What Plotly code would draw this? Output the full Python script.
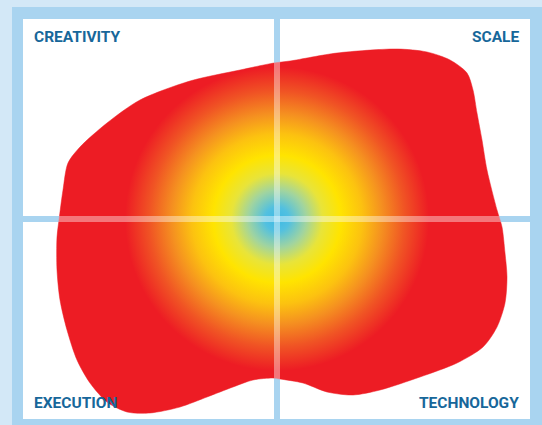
import numpy as np
import plotly.graph_objects as go

W, H = 542, 425

# Blob outline (pixel-space data coordinates, y downwards), starts on the flat left side
BLOB_X = [59, 63, 68, 80, 107, 140, 190, 240, 274, 290, 337, 397, 427, 450, 467, 473,
          477, 482, 487, 497, 502, 505, 507, 505, 497, 483, 457, 420, 380, 353, 327, 303,
          280, 273, 253, 233, 207, 180, 150, 127, 107, 90, 77, 67, 60, 57, 57, 59]
BLOB_Y = [220, 190, 163, 147, 123, 100, 81, 70, 63, 61, 53, 49, 52, 60, 73, 90,
          113, 140, 170, 210, 227, 253, 277, 303, 327, 347, 363, 377, 390, 395, 392, 383,
          379, 378, 380, 387, 397, 407, 413, 412, 402, 383, 360, 330, 300, 270, 237, 220]

QUADRANT_LABELS = ["CREATIVITY", "SCALE", "EXECUTION", "TECHNOLOGY"]

# Gradient stops (fraction of glow radius, colour)
GLOW_STOPS = [0.0, 0.08, 0.19, 0.3, 0.42, 0.56, 0.69, 0.84, 1.0]
GLOW_COLORS = ["rgb(62,186,228)", "rgb(82,192,224)", "rgb(160,212,160)", "rgb(232,228,58)",
               "rgb(255,228,0)", "rgb(252,194,16)", "rgb(245,145,32)", "rgb(240,84,36)",
               "rgb(237,28,36)"]

# Styles
OUTER_BG = "#D3E8F7"
FRAME = "#A9D4F0"
RED = "rgb(237,28,36)"
TEXT = "#17679A"
FRAME_BOX = (12, 7, 542, 425)
INNER_BOX = (23, 19, 530, 419)
VX = (274, 280)
HY = (216, 222)
OVER_A = 0.4
GLOW_R = 152

cx = (VX[0] + VX[1]) / 2
cy = (HY[0] + HY[1]) / 2

fig = go.Figure()

fig.add_trace(go.Scatter(
    x=BLOB_X, y=BLOB_Y, mode="lines", fill="toself", fillcolor=RED,
    line=dict(color=RED, width=0.5, shape="spline", smoothing=0.8),
    hoverinfo="skip", showlegend=False))

t = np.linspace(0, 2 * np.pi, 181)
fig.add_trace(go.Scatter(
    x=cx + GLOW_R * np.cos(t), y=cy + GLOW_R * np.sin(t), mode="lines", fill="toself",
    fillgradient=dict(type="radial", colorscale=[[s, c] for s, c in zip(GLOW_STOPS, GLOW_COLORS)]),
    line=dict(width=0, color="rgba(0,0,0,0)"),
    hoverinfo="skip", showlegend=False))

# base divider colour so that divider + white overlay == frame colour
fr = [int(FRAME[i:i + 2], 16) for i in (1, 3, 5)]
base = [round((c - 255 * OVER_A) / (1 - OVER_A)) for c in fr]
base_col = f"rgb({base[0]},{base[1]},{base[2]})"

shapes = [
    dict(type="rect", xref="x", yref="y", x0=FRAME_BOX[0], y0=FRAME_BOX[1], x1=FRAME_BOX[2],
         y1=FRAME_BOX[3], fillcolor=FRAME, line=dict(width=0), layer="below"),
    dict(type="rect", xref="x", yref="y", x0=INNER_BOX[0], y0=INNER_BOX[1], x1=INNER_BOX[2],
         y1=INNER_BOX[3], fillcolor="white", line=dict(width=0), layer="below"),
    dict(type="rect", xref="x", yref="y", x0=VX[0], y0=INNER_BOX[1], x1=VX[1],
         y1=INNER_BOX[3], fillcolor=base_col, line=dict(width=0), layer="below"),
    dict(type="rect", xref="x", yref="y", x0=INNER_BOX[0], y0=HY[0], x1=INNER_BOX[2],
         y1=HY[1], fillcolor=base_col, line=dict(width=0), layer="below"),
    dict(type="rect", xref="x", yref="y", x0=VX[0], y0=INNER_BOX[1], x1=VX[1],
         y1=INNER_BOX[3], fillcolor=f"rgba(255,255,255,{OVER_A})", line=dict(width=0), layer="above"),
    dict(type="rect", xref="x", yref="y", x0=INNER_BOX[0], y0=HY[0], x1=INNER_BOX[2],
         y1=HY[1], fillcolor=f"rgba(255,255,255,{OVER_A})", line=dict(width=0), layer="above"),
]

label_pos = [(32, 36.5, "left"), (521, 36.5, "right"), (32, 402.5, "left"), (521, 402.5, "right")]
annotations = []
for txt, (x, y, anc) in zip(QUADRANT_LABELS, label_pos):
    annotations.append(dict(x=x, y=y, xref="x", yref="y", text=txt, showarrow=False,
                            xanchor=anc, yanchor="middle",
                            font=dict(family="Roboto", size=15.5, color=TEXT, weight=700)))

fig.update_layout(
    width=W, height=H, margin=dict(l=0, r=0, t=0, b=0),
    paper_bgcolor=OUTER_BG, plot_bgcolor=OUTER_BG,
    xaxis=dict(range=[0, W], visible=False, fixedrange=True),
    yaxis=dict(range=[H, 0], visible=False, fixedrange=True),
    shapes=shapes, annotations=annotations, showlegend=False,
)

fig.write_html("out.html", config={"displayModeBar": False},
               post_script="document.body.style.margin='0';document.body.style.background='" + OUTER_BG + "';")
